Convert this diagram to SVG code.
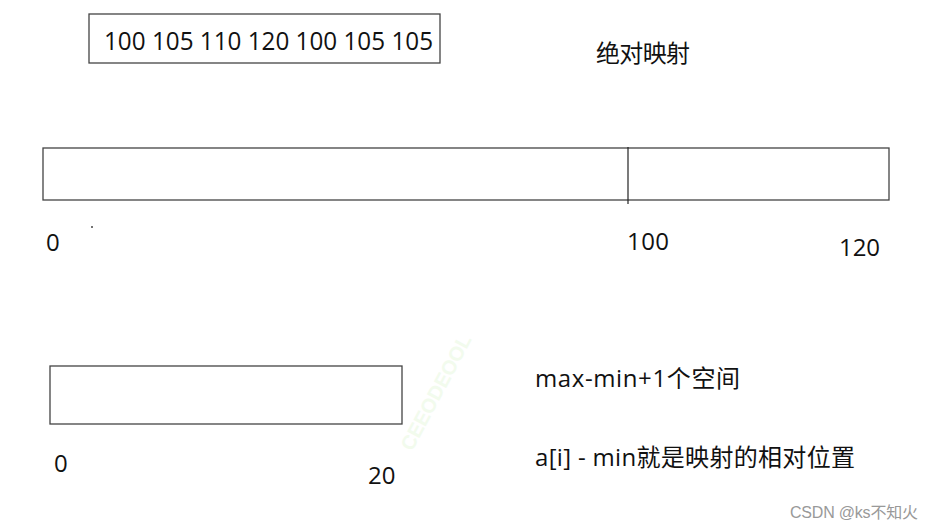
<svg xmlns="http://www.w3.org/2000/svg" width="936" height="530" viewBox="0 0 936 530">
<style>
.box{fill:#fff;stroke:#444;stroke-width:1.3}
.t{font-family:"Open Sans","Noto Sans","Noto Sans CJK SC",sans-serif;font-size:24px;fill:#111}
.cn{font-family:"Open Sans","Noto Sans CJK SC",sans-serif;font-size:24px;fill:#111}
</style>
<rect width="936" height="530" fill="#fff"/>
<g id="values">
<rect class="box" x="89" y="14" width="351" height="49"/>
<text class="t" x="104" y="50" style="font-size:25.5px" textLength="329" lengthAdjust="spacingAndGlyphs">100 105 110 120 100 105 105</text>
</g>
<g id="title"><text class="cn" x="596" y="62" textLength="94">绝对映射</text></g>
<g id="absolute">
<rect class="box" x="43" y="148" width="846" height="52"/>
<line x1="628" y1="147" x2="628" y2="204" stroke="#222" stroke-width="1.2"/>
<circle cx="92" cy="227" r="1" fill="#444"/>
<text class="t" x="46" y="251">0</text>
<text class="t" x="627" y="250" textLength="42">100</text>
<text class="t" x="839" y="256" textLength="41">120</text>
</g>
<g id="relative">
<rect class="box" x="50" y="366" width="352" height="58"/>
<text class="t" x="54" y="472">0</text>
<text class="t" x="368" y="484">20</text>
</g>
<g id="notes">
<text class="cn" x="535" y="387" textLength="205">max-min+1个空间</text>
<text class="cn" x="535" y="466" textLength="320">a[i] - min就是映射的相对位置</text>
</g>
<text x="412" y="452" transform="rotate(-62 412 452)" font-family="Liberation Sans,sans-serif" font-size="20" font-weight="bold" fill="#e6f8dc" opacity="0.5">CEEODEOOL</text>
<text x="790" y="518" font-family="Liberation Sans,'Noto Sans CJK SC',sans-serif" font-size="16" fill="#999" textLength="128">CSDN @ks不知火</text>
</svg>
